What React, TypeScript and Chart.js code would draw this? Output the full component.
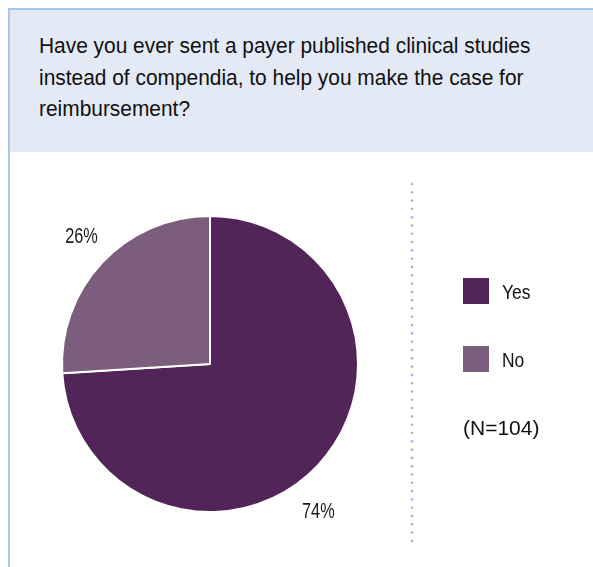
import React, { useEffect, useRef } from "react";
import { Chart, registerables } from "chart.js";

Chart.register(...registerables);

const titleLines = [
  "Have you ever sent a payer published clinical studies",
  "instead of compendia, to help you make the case for",
  "reimbursement?",
];
const categories = ["Yes", "No"];
const values = [74, 26];
const colors = ["#512558", "#7b5e7e"];
const sampleNote = "(N=104)";

const FONT = "'Liberation Sans', Arial, sans-serif";

function drawScaled(ctx: any, text: string, x: number, y: number, sx: number, align: string) {
  ctx.save();
  ctx.translate(x, y);
  ctx.scale(sx, 1);
  ctx.textAlign = align;
  ctx.fillText(text, 0, 0);
  ctx.restore();
}

const overlayPlugin = {
  id: "overlay",
  afterDraw(chart: any) {
    const ctx = chart.ctx;
    const meta = chart.getDatasetMeta(0);
    ctx.save();
    // percentage labels outside slices
    ctx.fillStyle = "#1a1a1a";
    ctx.font = `22px ${FONT}`;
    ctx.textBaseline = "alphabetic";
    meta.data.forEach((arc: any, i: number) => {
      const p = arc.getProps(["x", "y", "startAngle", "endAngle", "outerRadius"], true);
      const shift = i === 0 ? (10.2 * Math.PI) / 180 : (1.8 * Math.PI) / 180;
      const mid = (p.startAngle + p.endAngle) / 2 + shift;
      const r = p.outerRadius * 1.228;
      drawScaled(ctx, `${values[i]}%`, p.x + Math.cos(mid) * r, p.y + Math.sin(mid) * r + 8, 0.74, "center");
    });
    // dotted separator
    ctx.fillStyle = "#97b9e6";
    const dx = 402;
    for (let y = 32; y <= 389; y += 8.3) {
      ctx.beginPath();
      ctx.arc(dx, y, 1.3, 0, Math.PI * 2);
      ctx.fill();
    }
    // legend
    const lx = 453;
    const rows = [139, 207];
    ctx.font = `21px ${FONT}`;
    categories.forEach((c, i) => {
      ctx.fillStyle = colors[i];
      ctx.fillRect(lx, rows[i] - 13, 26, 26);
      ctx.fillStyle = "#111";
      drawScaled(ctx, c, lx + 39, rows[i] + 8, 0.83, "left");
    });
    ctx.fillStyle = "#111";
    ctx.font = `21px ${FONT}`;
    drawScaled(ctx, sampleNote, lx, 283, 1.0, "left");
    ctx.restore();
  },
};

export default function App() {
  const ref = useRef<HTMLCanvasElement>(null);
  useEffect(() => {
    if (!ref.current) return;
    const chart = new Chart(ref.current, {
      type: "pie",
      data: {
        labels: categories,
        datasets: [
          {
            data: values,
            backgroundColor: colors,
            borderColor: "#ffffff",
            borderWidth: 2,
          },
        ],
      },
      options: {
        animation: false,
        responsive: false,
        layout: { padding: { left: 51, top: 63, right: 234, bottom: 54 } },
        plugins: { legend: { display: false }, tooltip: { enabled: false } },
      },
      plugins: [overlayPlugin],
    });
    return () => chart.destroy();
  }, []);

  return (
    <div
      style={{
        position: "fixed",
        left: 8,
        top: 8,
        width: 585,
        height: 559,
        boxSizing: "border-box",
        borderTop: "2px solid #a8c6ec",
        borderLeft: "2px solid #a8c6ec",
        overflow: "hidden",
      }}
    >
      <div
        style={{
          height: 142,
          boxSizing: "border-box",
          background: "#e3e9f5",
          paddingLeft: 29,
          paddingTop: 20,
          fontFamily: FONT,
          fontSize: 22,
          lineHeight: "31.5px",
          color: "#111",
        }}
      >
        {titleLines.map((l, i) => (
          <div
            key={i}
            style={{ transform: "scaleX(0.95)", transformOrigin: "left center", whiteSpace: "nowrap" }}
          >
            {l}
          </div>
        ))}
      </div>
      <canvas ref={ref} width={583} height={415} style={{ display: "block" }} />
    </div>
  );
}
